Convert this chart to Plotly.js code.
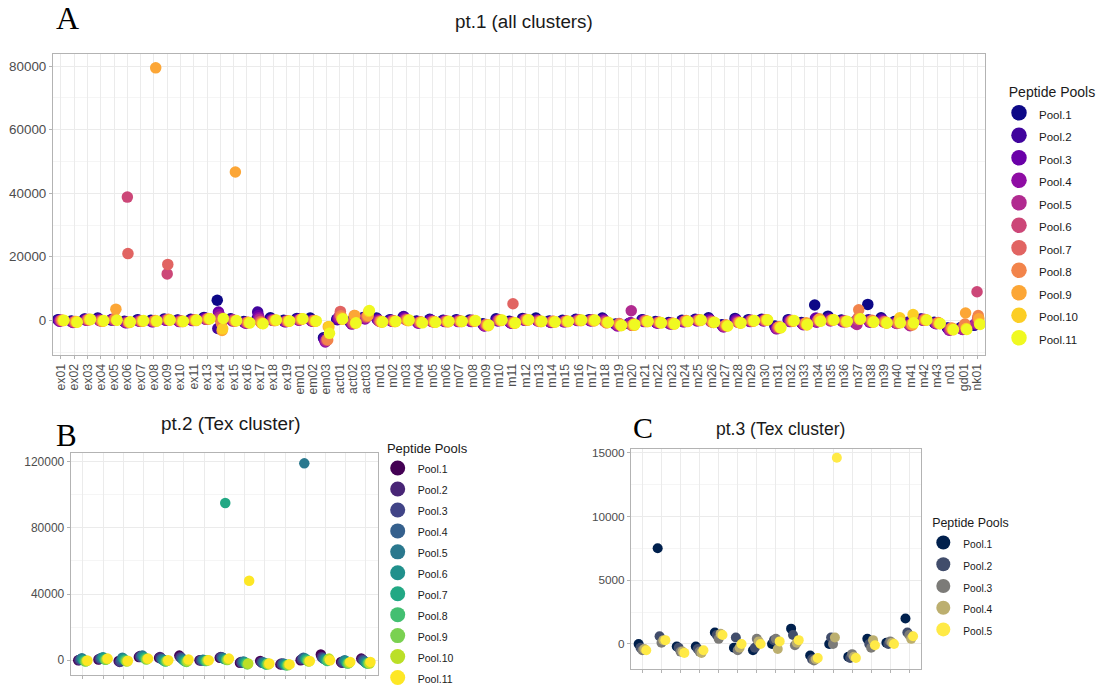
<!DOCTYPE html>
<html>
<head>
<meta charset="utf-8">
<script src="https://cdn.plot.ly/plotly-3.0.1.min.js"></script>
<style>html,body{margin:0;padding:0;background:#fff;}#chart{width:1101px;height:694px;}</style>
</head>
<body>
<div id="chart"></div>
<script>
// ---------------- Panel A: pt.1 (all clusters) ----------------
const catsA = ['ex01','ex02','ex03','ex04','ex05','ex06','ex07','ex08','ex09','ex10',
  'ex11','ex13','ex14','ex15','ex16','ex17','ex18','ex19','em01','em02',
  'em03','act01','act02','act03','m01','m02','m03','m04','m05','m06',
  'm07','m08','m09','m10','m11','m12','m13','m14','m15','m16',
  'm17','m18','m19','m20','m21','m22','m23','m24','m25','m26',
  'm27','m28','m29','m30','m31','m32','m33','m34','m35','m36',
  'm37','m38','m39','m40','m41','m42','m43','n01','gd01','nk01'];
const poolsA = ['Pool.1','Pool.2','Pool.3','Pool.4','Pool.5','Pool.6','Pool.7','Pool.8','Pool.9','Pool.10','Pool.11'];
const colorsA = ['#0D0887','#41049D','#6A00A8','#8F0DA4','#B12A90','#CC4778','#E16462','#F2844B','#FCA636','#FCCE25','#F0F921'];

const a01 = [200,-200,400,700,100,-300,200,0,400,100, 300,900,6300,500,-400,500,800,0,600,700,
  -5500,300,-500,900,700,200,1000,-200,300,0, 200,100,-1100,500,-300,600,700,-200,0,300,
  200,700,-1200,-1000,200,-400,-700,0,300,800, -1400,600,200,300,-1800,200,-700,4800,1300,100,
  -500,5000,800,-400,-600,400,-600,-2400,-2300,-1600];
const a02 = [100,-400,300,500,200,-500,0,-300,200,0, 200,700,-2600,300,-600,2600,300,-300,400,100,
  -5800,200,-600,700,400,100,1200,-400,200,-100, 0,-200,-1300,200,-600,300,200,-400,-200,200,
  0,400,-1400,-1100,100,-600,-900,-200,200,400, -1600,300,0,200,-2000,0,-900,500,700,-100,
  -800,200,400,-600,-700,300,-800,-2500,-2600,-1400];
const a03 = [-200,-500,100,200,300,-700,-200,-400,100,-200, 0,600,2600,100,-700,1500,200,-400,200,-100,
  -6300,400,-900,600,100,-100,800,-600,0,-200, -100,-300,-1700,-100,-700,100,0,-600,-400,0,
  -100,200,-1500,-900,-100,-700,-1000,-400,0,200, -1900,100,-300,0,-2600,-200,-1100,700,300,-300,
  -900,-300,100,-700,-1200,200,-900,-2800,-2700,-1200];
const a04 = [-300,-700,0,-100,200,-800,-300,-500,0,-400, -100,300,1800,-200,-900,800,0,-500,0,-300,
  -6800,800,-1200,400,0,-300,500,-900,-300,-400, -400,-400,-1800,-200,-900,0,-200,-700,-500,-100,
  -200,-100,-1800,-700,-400,-900,-1200,-500,-200,-100, -2100,-200,-400,-200,-2700,-400,-1400,-600,0,-500,
  -1100,-600,-200,-900,-1500,0,-1100,-3100,-2900,-1100];
const a05 = [-100,-600,200,0,100,-600,-200,-300,200,-300, 0,400,1000,0,-800,300,100,-300,100,-200,
  -6500,1000,-1000,800,-200,-200,300,-700,-400,-300, -300,-200,-1600,0,-700,100,-100,-500,-400,0,
  0,-300,-1500,3000,-200,-700,-1000,-300,0,-400, -1900,-500,-200,-100,-2500,-300,-1200,-400,-200,-400,
  -1300,-400,-500,-1000,-1700,100,-1000,-3000,-2800,-900];
const a06 = [0,-500,100,-200,200,38800,-200,-300,14600,-200, 100,300,400,100,-700,-300,0,-200,200,-100,
  -6200,1600,-900,1000,-300,-100,200,-700,-300,-200, -200,0,-1400,100,-600,300,-200,-400,-300,100,
  0,-400,-1300,-1600,-100,-600,-900,-200,100,-300, -1700,-600,0,100,-2200,-100,-1000,-100,0,-200,
  200,-200,-400,-700,-1300,300,-900,-2600,-1800,9000];
const a07 = [-100,-400,200,-100,400,21000,-300,-200,17600,-300, 0,400,-300,-200,-700,-500,-100,-300,300,-200,
  -6000,2800,-700,1200,-400,-200,100,-600,-500,-300, -200,-100,-1300,0,5200,100,-300,-400,-200,0,
  100,-700,-1000,-1600,-200,-700,-1000,-200,0,-500, -1600,-700,-200,0,-2200,-200,-1200,200,100,-300,
  800,-300,-600,-900,-1400,100,-800,-2700,-1500,700];
const a08 = [0,-500,300,-300,500,-700,-200,-100,300,-300, 100,600,-1000,-200,-600,-800,0,-200,300,-100,
  -6200,1400,1500,1300,-300,-300,200,-500,-400,-400, -300,-200,-1400,0,-700,200,-300,-300,-300,100,
  0,-800,-1200,-1500,-200,-600,-900,-100,200,-600, -1500,-600,-100,100,-2000,-100,-1000,100,200,-400,
  3300,0,-500,-600,-1200,200,-700,-2400,-1200,1500];
const a09 = [-100,-400,200,-200,3500,-600,-200,79500,200,-400, 0,400,-3200,46700,-700,-900,-100,-300,400,-300,
  -2000,800,1500,1500,-400,-400,-100,-600,-500,-500, -400,-300,-1500,-100,-900,0,-400,-400,-400,-100,
  -200,-700,-1500,-1200,-400,-700,-1000,-300,-100,-700, -1600,-700,-300,0,-2100,-300,-800,500,0,-500,
  600,-400,-700,-200,-1500,0,-900,-2600,2300,500];
const a10 = [-100,-500,200,-300,100,-700,-300,-300,0,-400, -100,500,-2700,-200,-800,-1000,0,-300,400,-300,
  -2000,300,-900,2800,-600,-400,-100,-700,-600,-400, -400,-200,-1700,0,-900,100,-400,-600,-400,-100,
  -100,-700,-1700,-1600,-400,-800,-1200,-400,0,-700, -1800,-900,-200,200,-2400,-200,-1500,-200,200,-400,
  300,-600,-900,800,1800,100,-1100,-3000,-2600,-1000];
const a11 = [0,-600,300,-100,0,-500,-100,-200,100,-300, 100,500,600,-100,-800,-1100,100,-200,500,-200,
  -4100,500,-800,3100,-500,-300,100,-800,-600,-300, -300,-100,-1500,100,-800,200,-300,-500,-300,100,
  100,-600,-1600,-1300,-300,-800,-1100,-300,100,-600, -1800,-800,-100,100,-2300,-100,-1300,-300,100,-300,
  500,-500,-800,-800,-800,100,-1000,-2900,-2900,-1300];
const valuesA = [a01,a02,a03,a04,a05,a06,a07,a08,a09,a10,a11];

// ---------------- Panel B: pt.2 (Tex cluster) ----------------
const catsB = ['1','2','3','4','5','6','7','8','9','10','11','12','13','14','15'];
const poolsB = poolsA;
const colorsB = ['#440154','#482576','#414487','#35608D','#2A788E','#21908C','#22A884','#43BF71','#7AD151','#BBDF27','#FDE725'];
const b01 = [0,500,-500,2000,1500,2800,0,1500,-1500,-500,-2500,0,3500,-1000,1000];
const b02 = [200,800,-1000,2500,2000,2000,0,2000,-1000,-1000,-2000,500,2000,-1500,500];
const b03 = [300,1000,-800,2000,1000,1500,-200,1800,-1500,-1500,-2500,800,1500,-1000,0];
const b04 = [800,1200,200,2500,800,1000,200,1500,-1000,-1200,-2000,1500,1000,-500,-500];
const b05 = [1200,1500,1500,2800,500,500,300,1200,-800,-1500,-2300,119000,800,0,-1000];
const b06 = [500,1800,1000,2000,0,0,0,800,-1200,-2000,-2500,1000,500,-500,-1500];
const b07 = [0,1000,500,1500,-500,-500,-300,95000,-1500,-2500,-3000,500,0,-1500,-1800];
const b08 = [-500,500,0,1000,-800,-800,-500,500,-2000,-2500,-2800,0,-500,-2000,-2000];
const b09 = [-800,300,-500,500,-500,-1000,-200,200,-2500,-2000,-3000,-500,500,-1800,-1500];
const b10 = [-500,800,-800,800,-300,-500,0,500,-2000,-2500,-2500,-800,1000,-1500,-2000];
const b11 = [-200,1000,-300,1000,0,500,0,1000,48000,-2000,-2500,-500,0,-1000,-1000];
const valuesB = [b01,b02,b03,b04,b05,b06,b07,b08,b09,b10,b11];

// ---------------- Panel C: pt.3 (Tex cluster) ----------------
const catsC = ['1','2','3','4','5','6','7','8','9','10','11','12','13','14','15'];
const poolsC = ['Pool.1','Pool.2','Pool.3','Pool.4','Pool.5'];
const colorsC = ['#00204D','#414D6B','#7C7B78','#BCAF6F','#FFEA46'];
const c01 = [0,7500,-200,-200,900,-300,-500,0,1200,-900,0,-1000,400,100,2000];
const c02 = [-300,600,-300,-400,700,500,-300,300,700,-1200,500,-1100,0,0,900];
const c03 = [-500,100,-600,-600,400,-500,400,400,-100,-1300,0,-800,-300,200,700];
const c04 = [-400,300,-600,-700,800,-300,200,-400,100,-1200,500,-1000,300,100,400];
const c05 = [-500,300,-700,-500,700,0,0,200,300,-1100,14600,-1100,-100,0,600];
const valuesC = [c01,c02,c03,c04,c05];

// ---------------- build traces ----------------
const traces = [];
function addPanel(cats, pools, colors, values, ax, legendId, ptSize, legSize, legFont) {
  pools.forEach((p, i) => {
    traces.push({
      type: 'scatter', mode: 'markers', name: p,
      x: cats, y: values[i], xaxis: 'x' + ax, yaxis: 'y' + ax,
      offsetgroup: legendId + '_' + i,
      marker: {color: colors[i], size: ptSize, line: {width: 0}},
      showlegend: false, hoverinfo: 'x+y+name'
    });
  });
  pools.forEach((p, i) => {
    traces.push({
      type: 'scatter', mode: 'markers',
      name: '<span style="font-size:' + legFont + 'px">' + p + '</span>',
      x: [null], y: [null], xaxis: 'x' + ax, yaxis: 'y' + ax,
      offsetgroup: legendId + '_' + i,
      marker: {color: colors[i], size: legSize, line: {width: 0}},
      legend: legendId, showlegend: true, hoverinfo: 'skip'
    });
  });
}
addPanel(catsA, poolsA, colorsA, valuesA, '', 'legend', 11.5, 15.5, 11.5);
addPanel(catsB, poolsB, colorsB, valuesB, '2', 'legend2', 10.5, 15, 10.5);
addPanel(catsC, poolsC, colorsC, valuesC, '3', 'legend3', 10, 14, 10.2);

const W = 1101, H = 694;
const px = v => v / W, py = v => 1 - v / H;
const GRID = '#EBEBEB', MINOR = '#F5F5F5', BORDER = '#B3B3B3', TICKC = '#4D4D4D';
const FONT = 'Liberation Sans, Arial, sans-serif';
const SERIF = 'Liberation Serif, DejaVu Serif, serif';

function xAxis(dom, anchor, showLabels, fontSize) {
  return {
    domain: dom, anchor: anchor, type: 'category',
    tickmode: 'linear', tick0: 0, dtick: 1,
    showgrid: true, gridcolor: GRID, gridwidth: 1,
    showline: true, mirror: true, linecolor: BORDER, linewidth: 1,
    ticks: 'outside', ticklen: 3, tickcolor: BORDER, tickwidth: 1,
    showticklabels: showLabels, tickangle: -90,
    tickfont: {family: FONT, size: fontSize, color: TICKC},
    zeroline: false, automargin: false, fixedrange: true
  };
}
function yAxis(dom, anchor, range, dtick, fontSize) {
  return {
    domain: dom, anchor: anchor, range: range,
    tickmode: 'linear', tick0: 0, dtick: dtick, tickformat: 'd',
    minor: {dtick: dtick / 2, tick0: 0, showgrid: true, gridcolor: MINOR, gridwidth: 1, ticks: ''},
    showgrid: true, gridcolor: GRID, gridwidth: 1,
    showline: true, mirror: true, linecolor: BORDER, linewidth: 1,
    ticks: 'outside', ticklen: 3, tickcolor: BORDER, tickwidth: 1,
    tickfont: {family: FONT, size: fontSize, color: TICKC},
    zeroline: false, automargin: false, fixedrange: true
  };
}

const xa = xAxis([px(53), px(985)], 'y', true, 12.3); xa.range = [-0.6, catsA.length - 0.4];
const xb = xAxis([px(70.7), px(378)], 'y2', false, 11); xb.range = [-0.6, catsB.length - 0.4];
const xc = xAxis([px(631), px(920.7)], 'y3', false, 11); xc.range = [-0.6, catsC.length - 0.4];

function legendCfg(x, y, itemFont, titleFont) {
  return {
    x: x, y: y, xanchor: 'left', yanchor: 'top',
    bgcolor: 'rgba(0,0,0,0)', borderwidth: 0,
    font: {family: FONT, size: itemFont, color: '#1A1A1A'},
    title: {text: '\u00A0\u00A0Peptide Pools', font: {family: FONT, size: titleFont, color: '#1A1A1A'}},
    itemclick: false, itemdoubleclick: false
  };
}

const annotations = [
  {text: 'pt.1 (all clusters)', x: px(524), y: py(22), font: {family: FONT, size: 18.8, color: '#1A1A1A'}},
  {text: 'pt.2 (Tex cluster)', x: px(230.8), y: py(426.7), font: {family: FONT, size: 18.9, color: '#1A1A1A'}},
  {text: 'pt.3 (Tex cluster)', x: px(780.3), y: py(432.7), font: {family: FONT, size: 17.5, color: '#1A1A1A'}},
  {text: 'A', x: px(54), y: py(18), xanchor: 'left', font: {family: SERIF, size: 32, color: '#000'}},
  {text: 'B', x: px(53.5), y: py(439), xanchor: 'left', font: {family: SERIF, size: 31, color: '#000'}},
  {text: 'C', x: px(631), y: py(431), xanchor: 'left', font: {family: SERIF, size: 30, color: '#000'}}
].map(a => Object.assign({xref: 'paper', yref: 'paper', showarrow: false, xanchor: 'center', yanchor: 'middle'}, a));

const layout = {
  width: W, height: H, autosize: false,
  margin: {l: 0, r: 0, t: 0, b: 0, pad: 0},
  paper_bgcolor: '#FFFFFF', plot_bgcolor: '#FFFFFF',
  font: {family: FONT, color: '#1A1A1A'},
  scattermode: 'group', scattergap: 0.5,
  xaxis: xa, yaxis: yAxis([py(358), py(54)], 'x', [-10900, 84000], 20000, 13.4),
  xaxis2: xb, yaxis2: yAxis([py(680.7), py(456.7)], 'x2', [-8800, 125400], 40000, 12),
  xaxis3: xc, yaxis3: yAxis([py(675.3), py(452.7)], 'x3', [-2000, 15300], 5000, 11.75),
  legend: legendCfg(px(999), py(79), 15, 14),
  legend2: legendCfg(px(377.7), py(439.5), 13.8, 13),
  legend3: legendCfg(px(923.3), py(515), 14.4, 12.4),
  annotations: annotations,
  hovermode: 'closest'
};

Plotly.newPlot('chart', traces, layout, {displayModeBar: false, responsive: false});
</script>
</body>
</html>
